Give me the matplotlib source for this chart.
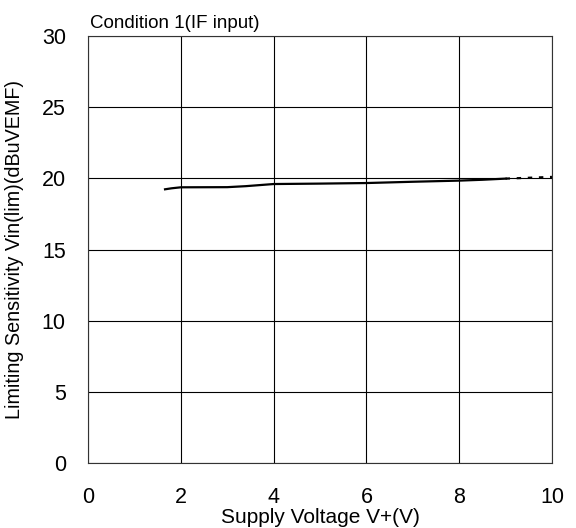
import matplotlib
matplotlib.use("Agg")
import matplotlib.pyplot as plt

plt.rcParams['font.family'] = ['Liberation Sans', 'DejaVu Sans']

# measured curve (solid part) and extrapolated dotted tail
v_solid = [1.66, 1.8, 2.0, 3.0, 3.4, 4.0, 5.0, 6.0, 7.0, 8.0, 8.5, 9.0]
s_solid = [19.23, 19.3, 19.37, 19.38, 19.45, 19.6, 19.63, 19.67, 19.76, 19.84, 19.9, 19.98]
v_dot = [9.0, 9.5, 10.0]
s_dot = [19.98, 20.04, 20.1]

xticks = [0, 2, 4, 6, 8, 10]
yticks = [0, 5, 10, 15, 20, 25, 30]

fig = plt.figure(figsize=(5.76, 5.28), dpi=100)
ax = fig.add_axes([0.1528, 0.1231, 0.8055, 0.8087])

ax.plot(v_solid, s_solid, color='black', lw=1.6)
ax.plot(v_dot, s_dot, color='black', lw=1.6, ls=(0, (2, 3)))

ax.set_xlim(0, 10)
ax.set_ylim(0, 30)
ax.set_xticks(xticks)
ax.set_yticks(yticks)
ax.grid(True, color='black', lw=0.8)
ax.tick_params(length=0, labelsize=15.5)
ax.tick_params(axis='x', pad=17)
ax.tick_params(axis='y', pad=16)
for s in ax.spines.values():
    s.set_linewidth(0.8)
    s.set_color('#333333')

ax.set_xlabel('Supply Voltage V+(V)', fontsize=15)
ax.xaxis.set_label_coords(0.5, -0.105)
ax.set_ylabel('Limiting Sensitivity Vin(lim)(dBuVEMF)', fontsize=14.2)
ax.yaxis.set_label_coords(-0.137, 0.5)
fig.text(0.157, 0.939, 'Condition 1(IF input)', fontsize=13.5, ha='left', va='bottom')

fig.savefig('out.png', dpi=100)
